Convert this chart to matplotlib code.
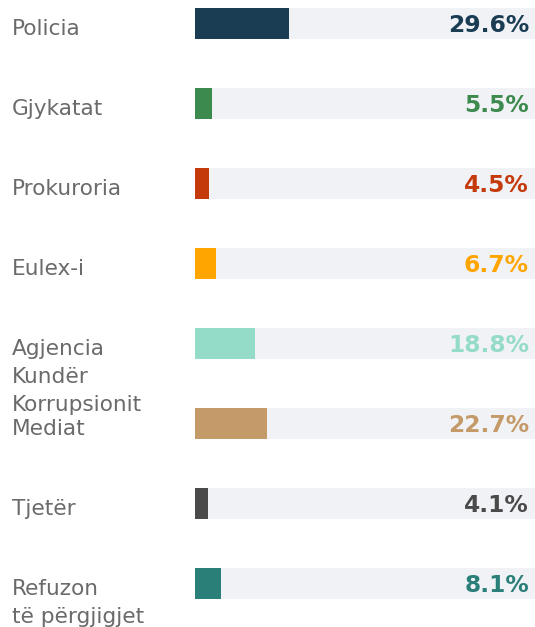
import matplotlib.pyplot as plt

# Data
labels = ["Policia", "Gjykatat", "Prokuroria", "Eulex-i",
          "Agjencia\nKundër\nKorrupsionit", "Mediat", "Tjetër",
          "Refuzon\ntë përgjigjet"]
values = [29.6, 5.5, 4.5, 6.7, 18.8, 22.7, 4.1, 8.1]
colors = ["#1a3d54", "#3d8a4e", "#c43a0a", "#ffa500",
          "#94dbc8", "#c49a68", "#4a4a4a", "#2a7f78"]

W, H = 535, 627
fig = plt.figure(figsize=(W / 100, H / 100), dpi=100)
ax = fig.add_axes([195 / W, 0, 1 - 195 / W, 1])

pos = list(range(len(values)))
track_max = 107
ax.barh(pos, [track_max] * len(values), height=0.3875, color="#f1f2f6")
ax.barh(pos, values, height=0.3875, color=colors)

ax.set_xlim(0, track_max)
ax.set_ylim(7.544, -0.294)
ax.axis("off")

tr = ax.get_yaxis_transform()

# value labels
for p, v, c in zip(pos, values, colors):
    ax.text(0.982, p + 0.106, f"{v}%", transform=tr,
            ha="right", va="baseline", color=c, fontsize=16.8,
            fontweight="bold", family="DejaVu Sans")

# category labels, one line at a time
for p, lab in zip(pos, labels):
    for i, line in enumerate(lab.split("\n")):
        ax.text(-(195 - 12) / (W - 195), p + 0.144 + i * 0.35, line,
                transform=tr, ha="left", va="baseline", color="#6b6b6b",
                fontsize=15.6, family="DejaVu Sans", clip_on=False)

fig.savefig("out.png", dpi=100)
